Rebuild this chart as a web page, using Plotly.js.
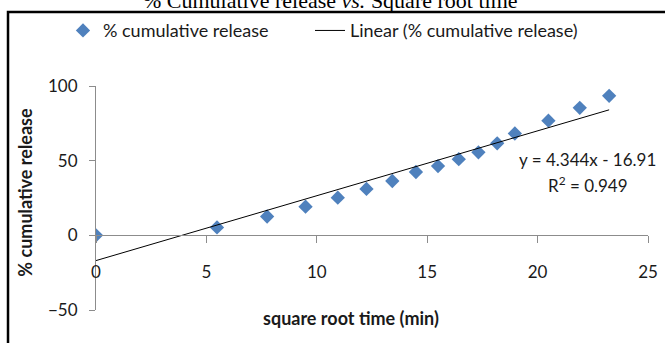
<!DOCTYPE html>
<html>
<head>
<meta charset="utf-8">
<script src="https://cdn.plot.ly/plotly-3.0.1.min.js"></script>
<style>html,body{margin:0;padding:0;background:#fff;}#chart{width:665px;height:343px;}</style>
</head>
<body>
<div id="chart"></div>
<script>
// Data
const sqrtTime = [0, 5.48, 7.75, 9.49, 10.95, 12.25, 13.42, 14.49, 15.49, 16.43, 17.32, 18.17, 18.97, 20.49, 21.91, 23.24];
const cumRelease = [0, 5.3, 12.6, 19.2, 25.2, 31.1, 36.4, 42.4, 46.4, 51.0, 55.6, 61.6, 68.2, 76.8, 85.4, 93.4];
const slope = 4.344;
const intercept = -16.91;
const rSquared = 0.949;
const trendX = [0, 23.24];
const trendY = trendX.map(x => slope * x + intercept);

const FONT = 'Lato, "Liberation Sans", sans-serif';
const TXT = '#1a1a1a';

const traces = [
  {
    x: sqrtTime, y: cumRelease, type: 'scatter', mode: 'markers',
    name: '% cumulative release', legend: 'legend',
    marker: {symbol: 'diamond', size: 11, color: '#4F81BD'}
  },
  {
    x: trendX, y: trendY, type: 'scatter', mode: 'lines',
    name: 'Linear (% cumulative release)', legend: 'legend2',
    line: {color: '#000000', width: 1}
  }
];

const legendBase = {orientation: 'h', xanchor: 'left', y: 1.2467, yanchor: 'middle',
  font: {family: FONT, size: 18, color: TXT}, bgcolor: 'rgba(0,0,0,0)', borderwidth: 0};

const layout = {
  width: 665, height: 343,
  margin: {l: 96, r: 17, t: 83, b: 33},
  paper_bgcolor: '#ffffff', plot_bgcolor: '#ffffff',
  font: {family: FONT, size: 14, color: TXT},
  showlegend: true,
  legend: Object.assign({}, legendBase, {x: -0.0598}),
  legend2: Object.assign({}, legendBase, {x: 0.3877}),
  xaxis: {
    range: [0, 25], dtick: 5, tick0: 0, showgrid: false, zeroline: false,
    showline: true, linecolor: '#8c8c8c', linewidth: 1,
    ticks: 'outside', ticklen: 7, tickcolor: '#8c8c8c',
    anchor: 'free', position: 1/3, ticklabelstandoff: 14,
    tickfont: {family: FONT, size: 17, color: TXT}
  },
  yaxis: {
    range: [-50, 100], dtick: 50, tick0: 0, showgrid: false, zeroline: false,
    showline: true, linecolor: '#8c8c8c', linewidth: 1,
    ticks: 'outside', ticklen: 6, tickcolor: '#8c8c8c', ticklabelstandoff: 8,
    tickfont: {family: FONT, size: 17, color: TXT}
  },
  annotations: [
    {text: '% Cumulative release <i>vs.</i> Square root time', xref: 'paper', yref: 'paper', x: 0.4257, y: 1.383,
     xanchor: 'center', yanchor: 'middle', showarrow: false,
     font: {family: '"Liberation Serif", "Times New Roman", serif', size: 22, color: '#000'}},
    {text: '<b>square root time (min)</b>', xref: 'paper', yref: 'paper', x: 0.4620, y: -0.035,
     xanchor: 'center', yanchor: 'middle', showarrow: false, font: {family: FONT, size: 18, color: TXT}},
    {text: '<b>% cumulative release</b>', xref: 'paper', yref: 'paper', x: -0.1286, y: 0.524, textangle: -90,
     xanchor: 'center', yanchor: 'middle', showarrow: false, font: {family: FONT, size: 18, color: TXT}},
    {text: 'y = ' + slope.toFixed(3) + 'x - ' + Math.abs(intercept).toFixed(2), xref: 'x', yref: 'y', x: 22.28, y: 51,
     xanchor: 'center', yanchor: 'middle', showarrow: false, font: {family: FONT, size: 17, color: TXT}},
    {text: 'R<sup>2</sup> = ' + rSquared.toFixed(3), xref: 'x', yref: 'y', x: 22.28, y: 33.8,
     xanchor: 'center', yanchor: 'middle', showarrow: false, font: {family: FONT, size: 17, color: TXT}}
  ],
  shapes: [
    {type: 'rect', xref: 'paper', yref: 'paper', x0: -0.1594, x1: 1.036, y0: -0.16, y1: 1.3304,
     line: {color: '#000', width: 2.5}, fillcolor: 'rgba(0,0,0,0)', layer: 'below'}
  ]
};

Plotly.newPlot('chart', traces, layout, {displayModeBar: false, staticPlot: true});
</script>
</body>
</html>
